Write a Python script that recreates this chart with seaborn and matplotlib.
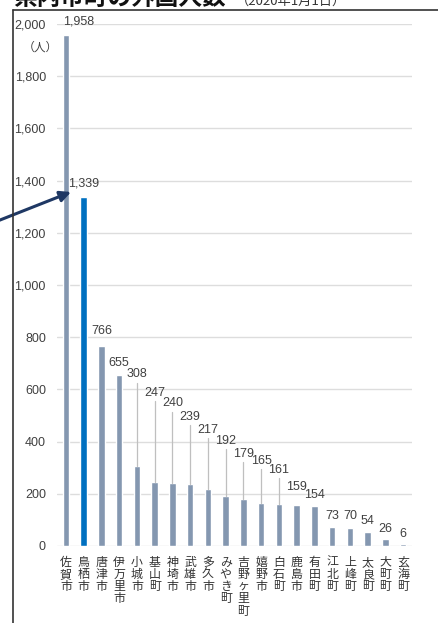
import matplotlib
matplotlib.use("Agg")
import matplotlib.pyplot as plt
import seaborn as sns
from matplotlib.lines import Line2D

cities = ["佐賀市", "鳥栖市", "唐津市", "伊万里市", "小城市", "基山町", "神埼市", "武雄市",
          "多久市", "みやき町", "吉野ヶ里町", "嬉野市", "白石町", "鹿島市", "有田町",
          "江北町", "上峰町", "太良町", "大町町", "玄海町"]
values = [1958, 1339, 766, 655, 308, 247, 240, 239, 217, 192, 179, 165, 161, 159, 154,
          73, 70, 54, 26, 6]
yticks = [0, 200, 400, 600, 800, 1000, 1200, 1400, 1600, 1800, 2000]
highlight = "鳥栖市"

# label placement (layout), in data units
label_pos = [2008, 1390, 823, 700, 658, 588, 546, 496, 446, 404, 354, 327, 292, 227, 196,
             115, 115, 96, 65, 46]

sns.set_theme(style="white")
plt.rcParams['font.family'] = ['Liberation Sans', 'Noto Sans CJK JP', 'DejaVu Sans']

W, H = 439, 623
fig = plt.figure(figsize=(W / 100, H / 100), dpi=100)
ax = fig.add_axes([57 / W, (H - 546) / H, (412 - 57) / W, (546 - 24) / H])

colors = ["#0070C0" if c == highlight else "#8497B0" for c in cities]
sns.barplot(x=cities, y=values, hue=cities, palette=colors, width=0.37,
            legend=False, ax=ax, saturation=1)

ax.set_xlim(-0.5, len(cities) - 0.5)
ax.set_ylim(0, 2000)
ax.set_yticks(yticks)
ax.set_yticklabels([f"{v:,}" for v in yticks], color="#404040", fontsize=9,
                   family=['Liberation Sans'])
ax.yaxis.grid(True, color="#DDDDDD", lw=1)
ax.set_axisbelow(True)
for s in ax.spines.values():
    s.set_visible(False)
ax.tick_params(axis='y', length=0, pad=8)
ax.tick_params(axis='x', length=0, pad=7)
ax.set_xticks(range(len(cities)))
ax.set_xticklabels(["\n".join(c) for c in cities], family=['Noto Sans CJK JP'],
                   fontsize=8.6, color="#333333", linespacing=0.92, va='top')

for i, (v, ly) in enumerate(zip(values, label_pos)):
    if i == 0:
        ax.text(-0.16, ly, f"{v:,}", ha='left', va='center', fontsize=9,
                color="#404040", family=['Liberation Sans'], clip_on=False)
    else:
        ax.text(i, ly, f"{v:,}", ha='center', va='center', fontsize=9,
                color="#404040", family=['Liberation Sans'], clip_on=False)
    if ly - v > 70:
        ax.plot([i, i], [v, ly - 33], color="#BFBFBF", lw=0.9, zorder=1)

ax.set_xlabel("")
ax.set_ylabel("")

fig.text(40 / W, (H - 47) / H, "（人）", ha='center', va='center', fontsize=8.5,
         color="#404040", family=['Noto Sans CJK JP'])

# frame
fig.add_artist(Line2D([13 / W, 13 / W], [0, (H - 10) / H], color="#333333", lw=1.2))
fig.add_artist(Line2D([13 / W, 1], [(H - 10) / H, (H - 10) / H], color="#333333", lw=1.2))

# title (cut off at top)
fig.text(13 / W, (H - 5) / H, "県内市町の外国人数", ha='left', va='baseline',
         fontsize=17, weight='bold', color="#111111", family=['Noto Sans CJK JP'])
fig.text(236 / W, (H - 5) / H, "（2020年1月1日）", ha='left', va='baseline',
         fontsize=9.5, color="#333333", family=['Noto Sans CJK JP'])

# arrow
ax.annotate("", xy=(71, H - 192), xycoords='figure pixels',
            xytext=(-5, H - 222), textcoords='figure pixels',
            arrowprops=dict(arrowstyle='-|>', color="#1F3864", lw=2.2,
                            mutation_scale=16, shrinkA=0, shrinkB=0),
            annotation_clip=False)

fig.savefig("out.png", dpi=100)
